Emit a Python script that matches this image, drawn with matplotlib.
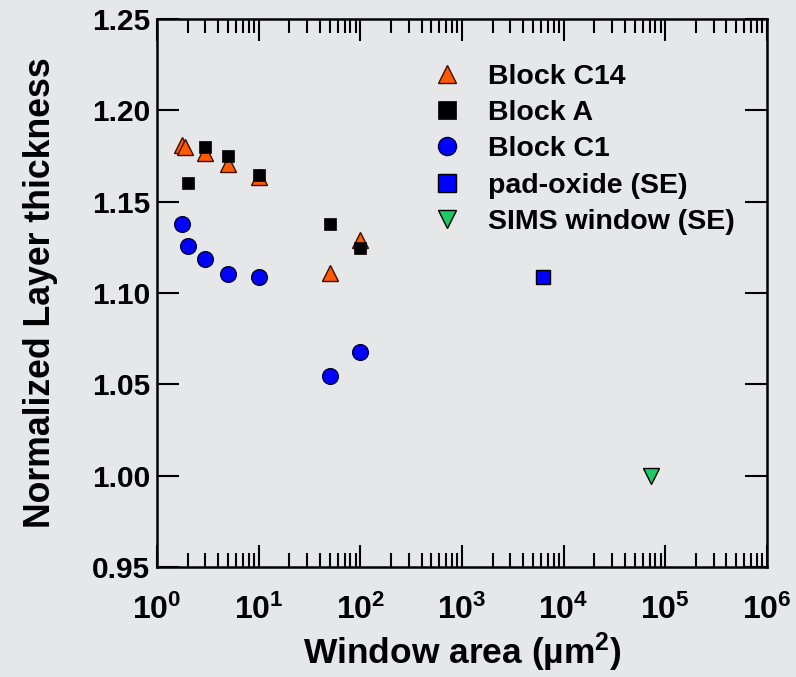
import matplotlib.pyplot as plt
from matplotlib.ticker import LogLocator, NullFormatter, MultipleLocator

plt.rcParams['font.family'] = ['Liberation Sans', 'DejaVu Sans']
plt.rcParams['font.weight'] = 'bold'
plt.rcParams['mathtext.fontset'] = 'custom'
plt.rcParams['mathtext.rm'] = 'Liberation Sans:bold'
plt.rcParams['mathtext.it'] = 'Liberation Sans:bold'
plt.rcParams['mathtext.bf'] = 'Liberation Sans:bold'
plt.rcParams['mathtext.default'] = 'rm'

# data
c14_area = [1.75, 1.9, 3, 5, 10, 50, 100]
c14_thick = [1.181, 1.180, 1.1765, 1.1705, 1.1637, 1.1108, 1.129]

a_area = [2, 3, 5, 10, 50, 100]
a_thick = [1.160, 1.180, 1.175, 1.1646, 1.1376, 1.1245]

c1_area = [1.77, 2, 3, 5, 10, 50, 100]
c1_thick = [1.1376, 1.1257, 1.1186, 1.1104, 1.1086, 1.0546, 1.0675]

pad_area = [6300]
pad_thick = [1.109]

sims_area = [73000]
sims_thick = [1.0]

bg = '#e6e7e9'
fig = plt.figure(figsize=(7.96, 6.77), dpi=100, facecolor=bg)
ax = fig.add_axes([0.1972, 0.1625, 0.7663, 0.8094])
ax.set_facecolor(bg)

ax.plot(c14_area, c14_thick, ls='none', marker='^', ms=12, mfc='#ff5a00',
        mec='#3a1000', mew=1.0, label='Block C14', zorder=3)
ax.plot(a_area, a_thick, ls='none', marker='s', ms=8, mfc='black',
        mec='black', mew=0.5, label='Block A', zorder=4)
ax.plot(c1_area, c1_thick, ls='none', marker='o', ms=11.3, mfc='#0000ff',
        mec='#000030', mew=1.0, label='Block C1', zorder=3)
ax.plot(pad_area, pad_thick, ls='none', marker='s', ms=10.5, mfc='#0000ff',
        mec='black', mew=1.0, label='pad-oxide (SE)', zorder=3)
ax.plot(sims_area, sims_thick, ls='none', marker='v', ms=12, mfc='#1ec864',
        mec='black', mew=1.0, label='SIMS window (SE)', zorder=3)

ax.set_xscale('log')
ax.set_xlim(1, 1e6)
ax.set_ylim(0.95, 1.25)
ax.yaxis.set_major_locator(MultipleLocator(0.05))
ax.yaxis.set_major_formatter(plt.FormatStrFormatter('%.2f'))
ax.xaxis.set_major_locator(LogLocator(base=10, numticks=10))
ax.xaxis.set_minor_locator(LogLocator(base=10, subs=range(2, 10), numticks=20))
ax.xaxis.set_minor_formatter(NullFormatter())

ax.tick_params(which='major', direction='in', length=16, width=1.5,
               top=True, right=True)
ax.tick_params(which='minor', direction='in', length=10, width=1.5,
               top=True, right=True)
ax.tick_params(axis='y', which='major', labelsize=21.5, pad=5)
ax.tick_params(axis='x', which='major', labelsize=23, pad=20)
for s in ax.spines.values():
    s.set_linewidth(1.8)

ax.set_xlabel('Window area (µm$^2$)', fontsize=25.5, fontweight='bold', labelpad=3)
ax.set_ylabel('Normalized Layer thickness', fontsize=25.7, fontweight='bold', labelpad=24)

leg = ax.legend(loc='upper left', bbox_to_anchor=(0.438, 0.918), frameon=False,
                fontsize=20.5, handlelength=1.6, handletextpad=0.65,
                labelspacing=0.36, borderpad=0, borderaxespad=0)
for h, ms in zip(leg.legend_handles, [13.5, 12.5, 13, 12.5, 12.5]):
    h.set_markersize(ms)

fig.savefig('out.png', dpi=100, facecolor=bg)
